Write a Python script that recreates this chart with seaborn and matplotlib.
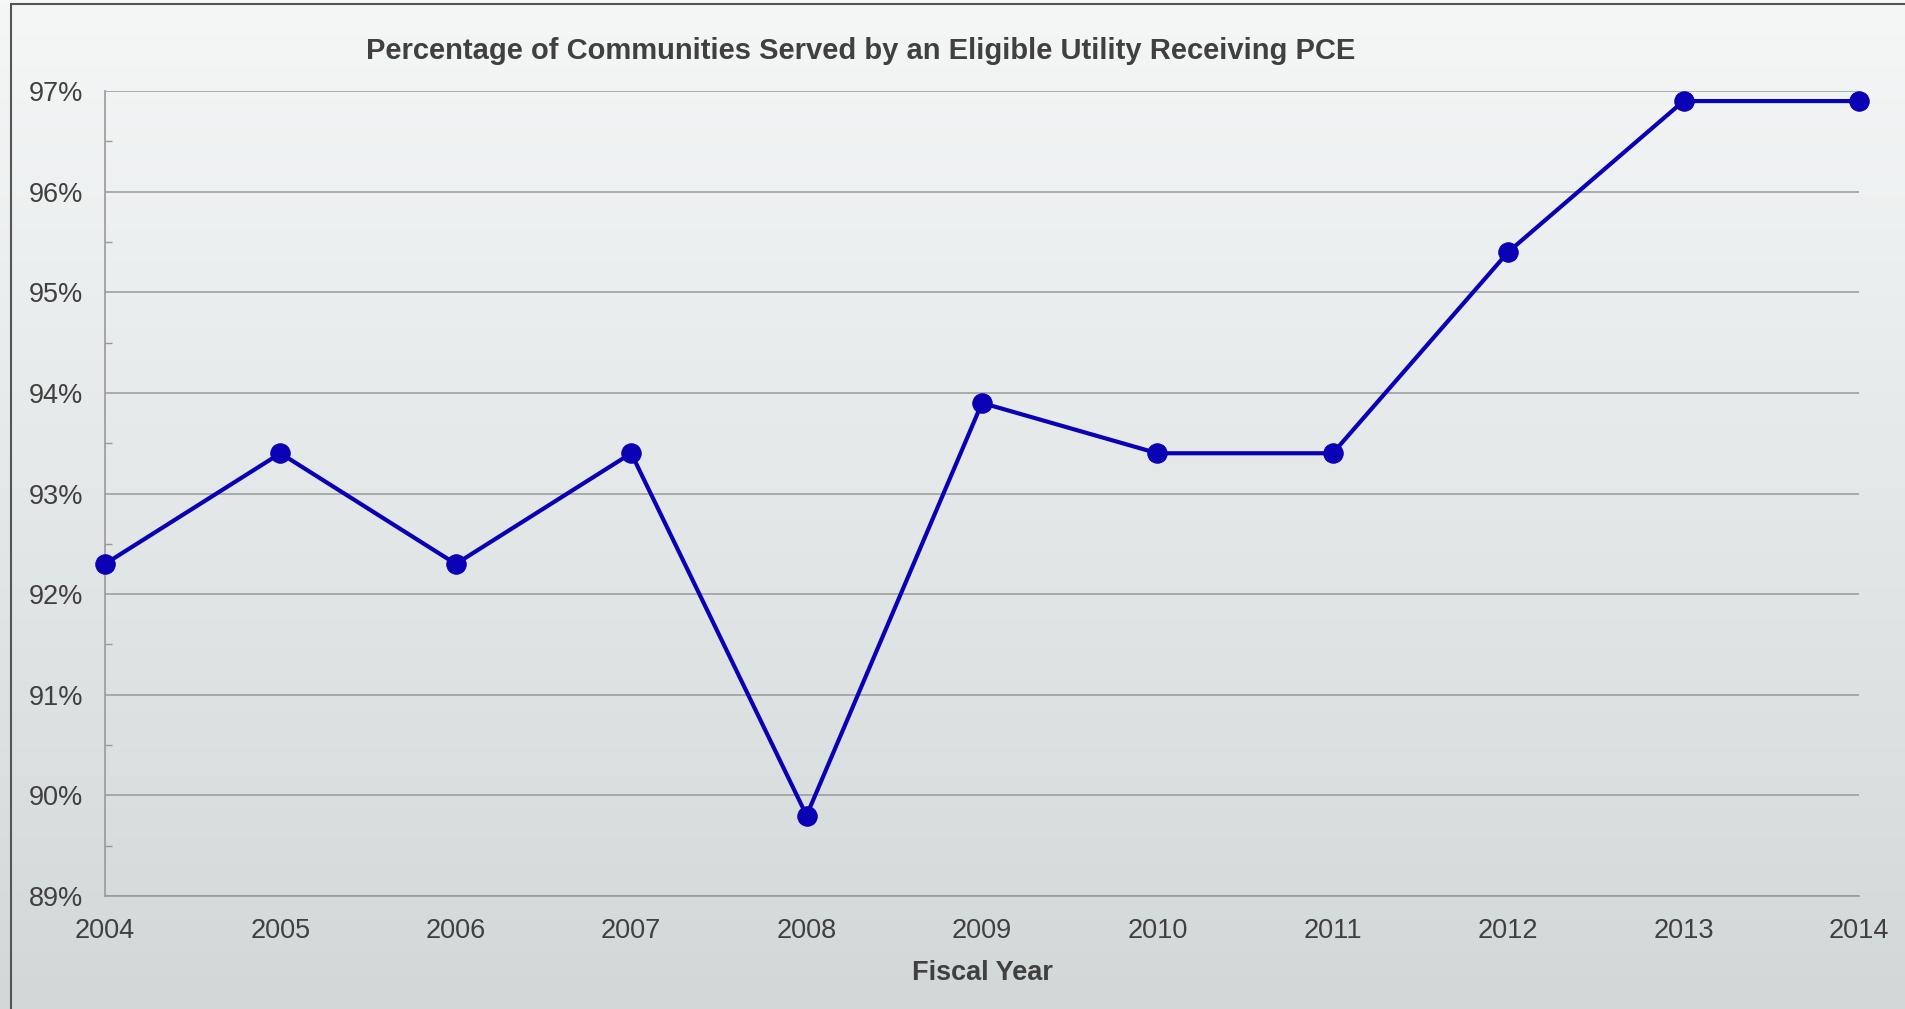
import numpy as np
import pandas as pd
import seaborn as sns
import matplotlib.pyplot as plt
from matplotlib.ticker import MultipleLocator, FuncFormatter
from matplotlib.patches import Rectangle

years = [2004, 2005, 2006, 2007, 2008, 2009, 2010, 2011, 2012, 2013, 2014]
pct_served = [92.3, 93.4, 92.3, 93.4, 89.8, 93.9, 93.4, 93.4, 95.4, 96.9, 96.9]

df = pd.DataFrame({'year': years, 'pct': pct_served})

sns.set_style("white")
plt.rcParams['font.family'] = ['Liberation Sans', 'DejaVu Sans']

text_color = '#404040'
line_color = '#0a00b4'

fig = plt.figure(figsize=(19.05, 10.09), dpi=100)

# background gradient over the whole figure
bg = fig.add_axes([0, 0, 1, 1], zorder=-10)
grad = np.linspace(0, 1, 256).reshape(-1, 1)
top_c = np.array([0xf5, 0xf7, 0xf7]) / 255
bot_c = np.array([0xd2, 0xd8, 0xd8]) / 255
img = top_c * (1 - grad[..., None]) + bot_c * grad[..., None]
bg.imshow(img, aspect='auto', extent=[0, 1, 0, 1])
bg.axis('off')
fig.patches.append(Rectangle((11 / 1905, -0.05), 1.1, 1 - 4 / 1009 + 0.05,
                             transform=fig.transFigure, fill=False,
                             edgecolor='#555555', linewidth=1.5, zorder=-5))

W, H = 1905, 1009
left, right, top, bottom = 105, 1859, 91, 896
ax = fig.add_axes([left / W, 1 - bottom / H, (right - left) / W, (bottom - top) / H])
ax.set_facecolor('none')

sns.lineplot(data=df, x='year', y='pct', ax=ax, color=line_color, linewidth=3,
             marker='o', markersize=14, markeredgecolor=line_color, clip_on=False, zorder=5)

ax.set_xlim(2004, 2014)
ax.set_ylim(89, 97)
ax.xaxis.set_major_locator(MultipleLocator(1))
ax.yaxis.set_major_locator(MultipleLocator(1))
ax.yaxis.set_minor_locator(MultipleLocator(0.5))
ax.yaxis.set_major_formatter(FuncFormatter(lambda v, p: f'{v:.0f}%'))

ax.grid(axis='y', which='major', color='#999999', linewidth=1.1)
for s in ['top', 'right']:
    ax.spines[s].set_visible(False)
for s in ['left', 'bottom']:
    ax.spines[s].set_color('#999999')
    ax.spines[s].set_linewidth(1.2)

ax.tick_params(axis='x', which='major', direction='in', length=6, width=1, color='#999999',
               labelsize=19.5, labelcolor=text_color, pad=16)
ax.tick_params(axis='y', which='major', direction='in', length=0,
               labelsize=19.5, labelcolor=text_color, pad=16)
ax.tick_params(axis='y', which='minor', direction='in', length=5, width=1, color='#999999', left=True)

ax.set_xlabel('Fiscal Year', fontsize=19.5, fontweight='bold', color=text_color, labelpad=11)
ax.set_ylabel('')

fig.text(861 / W, 1 - 51 / H, 'Percentage of Communities Served by an Eligible Utility Receiving PCE',
         ha='center', va='center', fontsize=21, fontweight='bold', color=text_color)

fig.savefig('out.png', dpi=100)
